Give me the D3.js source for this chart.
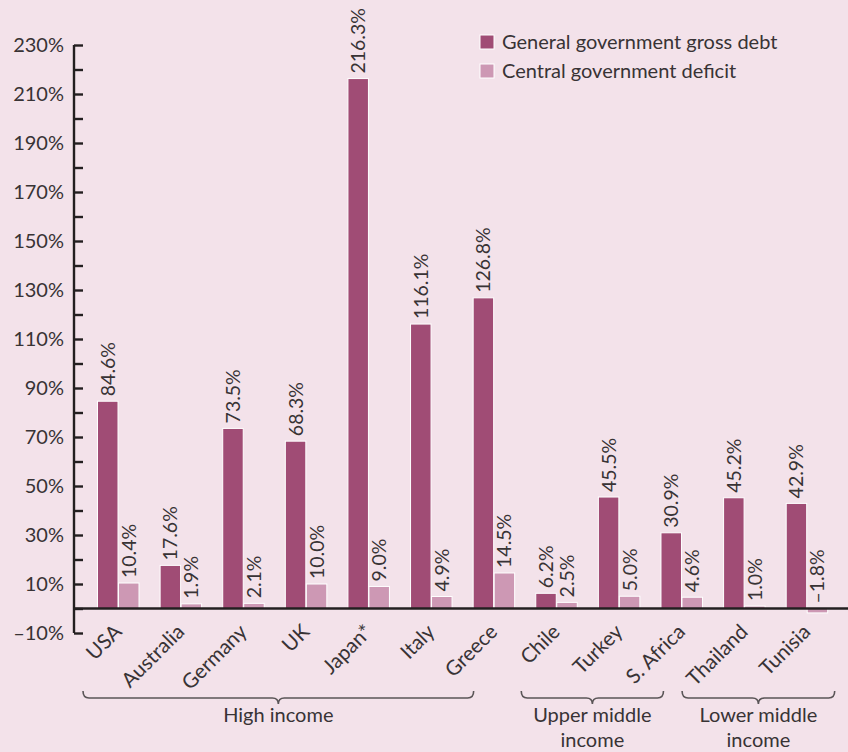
<!DOCTYPE html>
<html>
<head>
<meta charset="utf-8">
<script src="https://cdn.jsdelivr.net/npm/d3@7"></script>
<style>
  body { margin: 0; background: #f3e2ea; }
  text { font-family: Lato, "Open Sans", sans-serif; font-weight: 400; fill: #383335; }
</style>
</head>
<body>
<svg width="848" height="752"></svg>
<script>
var countries = ["USA", "Australia", "Germany", "UK", "Japan*", "Italy", "Greece",
                 "Chile", "Turkey", "S. Africa", "Thailand", "Tunisia"];
var grossDebt = [84.6, 17.6, 73.5, 68.3, 216.3, 116.1, 126.8, 6.2, 45.5, 30.9, 45.2, 42.9];
var deficit   = [10.4, 1.9, 2.1, 10.0, 9.0, 4.9, 14.5, 2.5, 5.0, 4.6, 1.0, -1.8];
var seriesNames = ["General government gross debt", "Central government deficit"];
var yTicks = [-10, 10, 30, 50, 70, 90, 110, 130, 150, 170, 190, 210, 230];
var groups = [
  { name: ["High income"], from: "USA", to: "Greece" },
  { name: ["Upper middle", "income"], from: "Chile", to: "S. Africa" },
  { name: ["Lower middle", "income"], from: "Thailand", to: "Tunisia" }
];

var colors = ["#a04c75", "#cd98b4"];
var svg = d3.select("svg");

var x = d3.scaleBand().domain(countries).range([86.7, 838]);
var y = d3.scaleLinear().domain([-10, 230]).range([633, 45]);
var barW = 20.5;

function fmt(v) { return (v < 0 ? "\u2013" + Math.abs(v).toFixed(1) : v.toFixed(1)) + "%"; }

// y axis
var yAxis = d3.axisRight(y)
  .tickValues(d3.range(-10, 231, 10))
  .tickSize(9)
  .tickFormat("");
var ga = svg.append("g").attr("transform", "translate(74,0)").call(yAxis);
ga.select(".domain").attr("stroke", "#231f20").attr("stroke-width", 2.4).attr("d", "M0," + y(-10) + "V" + y(230));
ga.selectAll(".tick line").attr("stroke", "#231f20").attr("stroke-width", 2.4);

svg.append("g").selectAll("text").data(yTicks).join("text")
  .attr("x", 64).attr("y", d => y(d)).attr("dy", "0.36em")
  .attr("text-anchor", "end").style("font-size", "20px")
  .text(d => (d < 0 ? "\u2013" + Math.abs(d) : d) + "%");

// bars
var rows = countries.map((c, i) => ({ c: c, v: [grossDebt[i], deficit[i]] }));
var gBars = svg.append("g");
rows.forEach(function (r) {
  r.v.forEach(function (v, s) {
    var cx = x(r.c) + x.bandwidth() / 2;
    var x0 = s === 0 ? cx - barW : cx + 0.5;
    gBars.append("rect")
      .attr("x", x0).attr("width", barW)
      .attr("y", Math.min(y(v), y(0))).attr("height", Math.abs(y(v) - y(0)))
      .attr("fill", colors[s]).attr("stroke", "#ffffff").attr("stroke-width", 1);
    var ly = Math.min(y(v), y(0)) - 5;
    gBars.append("text")
      .attr("transform", "translate(" + (x0 + barW / 2) + "," + ly + ") rotate(-90)")
      .attr("dy", "0.36em").style("font-size", "19.5px")
      .text(fmt(v));
  });
});

// zero line
svg.append("line").attr("x1", 73).attr("x2", 848).attr("y1", y(0)).attr("y2", y(0))
  .attr("stroke", "#231f20").attr("stroke-width", 2.6);

// category labels
svg.append("g").selectAll("text").data(countries).join("text")
  .attr("transform", d => "translate(" + (x(d) + x.bandwidth() / 2 + 5) + "," + 633 + ") rotate(-45)")
  .attr("text-anchor", "end").style("font-size", "20.5px")
  .text(d => d);

// group braces
var braceOffsets = [[-35, -20], [-35, -18], [-62, 28]];
groups.forEach(function (g, i) {
  var x1 = x(g.from) + x.bandwidth() / 2 + braceOffsets[i][0];
  var x2 = x(g.to) + x.bandwidth() / 2 + braceOffsets[i][1];
  var m = (x1 + x2) / 2, y0 = 691, y1 = 698;
  svg.append("path")
    .attr("d", "M" + x1 + "," + y0 + "Q" + x1 + "," + y1 + " " + (x1 + 6) + "," + y1 +
      "L" + (m - 6) + "," + y1 + "Q" + m + "," + y1 + " " + m + "," + (y1 + 6) +
      "Q" + m + "," + y1 + " " + (m + 6) + "," + y1 +
      "L" + (x2 - 6) + "," + y1 + "Q" + x2 + "," + y1 + " " + x2 + "," + y0)
    .attr("fill", "none").attr("stroke", "#5a5557").attr("stroke-width", 1.6);
  g.name.forEach(function (line, k) {
    svg.append("text").attr("x", m).attr("y", 722 + k * 25)
      .attr("text-anchor", "middle").style("font-size", "20px").text(line);
  });
});

// legend
var lg = svg.append("g");
seriesNames.forEach(function (n, i) {
  lg.append("rect").attr("x", 480).attr("y", 35 + i * 29).attr("width", 14).attr("height", 14)
    .attr("fill", colors[i]).attr("stroke", "#ffffff").attr("stroke-width", 1);
  lg.append("text").attr("x", 502).attr("y", 42 + i * 29).attr("dy", "0.36em")
    .style("font-size", "20px").text(n);
});
</script>
</body>
</html>
